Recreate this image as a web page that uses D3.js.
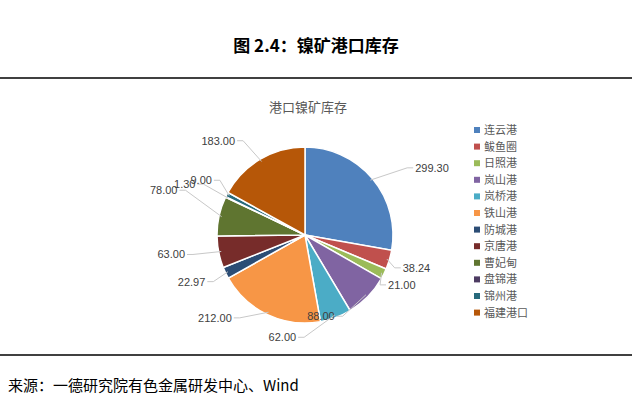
<!DOCTYPE html>
<html><head><meta charset="utf-8">
<script src="https://cdn.jsdelivr.net/npm/d3@7"></script>
<style>body{margin:0;background:#fff;font-family:"Noto Sans CJK SC",sans-serif}</style>
</head><body><div id="chart"></div>
<script>
const ports = ["连云港","鲅鱼圈","日照港","岚山港","岚桥港","铁山港","防城港","京唐港","曹妃甸","盘锦港","锦州港","福建港口"];
const stock = [299.30,38.24,21.00,88.00,62.00,212.00,22.97,63.00,78.00,1.30,9.00,183.00];
const colors = ["#4f81bd","#c0504d","#9bbb59","#8064a2","#4bacc6","#f79646","#2c4d75","#772c2a","#5f7530","#4d3b62","#276a7c","#b65708"];
// label nudges (dx, dy) from default outside position
const nudge = [[29,5],[-4,7],[-12,7],[-46,11],[-46,7],[-28,-9],[-4,5],[-16,3],[-24,-18],[-14,-1],[1,-2],[-16,1]];

const W = 632, H = 409, cx = 305, cy = 235, r = 88;
const svg = d3.select("#chart").append("svg").attr("width", W).attr("height", H);

svg.append("text").attr("x", 316).attr("y", 52).attr("text-anchor", "middle")
  .style("font-size", "17px").style("font-weight", "bold").text("图 2.4：镍矿港口库存");
svg.append("line").attr("x1", 0).attr("x2", W).attr("y1", 78).attr("y2", 78).attr("stroke", "#000").attr("stroke-width", 1.5);
svg.append("line").attr("x1", 0).attr("x2", W).attr("y1", 355).attr("y2", 355).attr("stroke", "#000").attr("stroke-width", 1.5);
svg.append("text").attr("x", 8).attr("y", 391).style("font-size", "15px").text("来源：一德研究院有色金属研发中心、Wind");

svg.append("text").attr("x", 308).attr("y", 112).attr("text-anchor", "middle")
  .attr("fill", "#595959").style("font-size", "13px").text("港口镍矿库存");

const pie = d3.pie().sort(null).value(d => d)(stock);
const arc = d3.arc().innerRadius(0).outerRadius(r);
const g = svg.append("g").attr("transform", `translate(${cx},${cy})`);
g.selectAll("path").data(pie).enter().append("path")
  .attr("d", arc).attr("fill", (d, i) => colors[i]).attr("stroke", "#fff").attr("stroke-width", 1.5);

const inner = d3.arc().innerRadius(r * 0.97).outerRadius(r * 0.97);
const outer = d3.arc().innerRadius(r + 18).outerRadius(r + 18);
pie.forEach((d, i) => {
  const a = inner.centroid(d);
  const b = outer.centroid(d);
  const lx = b[0] + nudge[i][0], ly = b[1] + nudge[i][1];
  const left = lx < a[0];
  g.append("polyline")
    .attr("points", [a, [lx + (left ? 8 : -8), ly - 4], [lx + (left ? 2 : -2), ly - 4]].map(p => p.join(",")).join(" "))
    .attr("fill", "none").attr("stroke", "#c8c8c8").attr("stroke-width", 1);
  g.append("text").attr("x", lx).attr("y", ly)
    .attr("text-anchor", left ? "end" : "start").attr("fill", "#404040")
    .style("font-size", "11px").style("font-family", "Liberation Sans, sans-serif")
    .text(d.data.toFixed(2));
});

const lg = svg.append("g").attr("transform", "translate(474,124)");
ports.forEach((p, i) => {
  lg.append("rect").attr("x", 0).attr("y", i * 16.6 + 3).attr("width", 6).attr("height", 6).attr("fill", colors[i]);
  lg.append("text").attr("x", 10).attr("y", i * 16.6 + 10).attr("fill", "#595959").style("font-size", "11px").text(p);
});
</script></body></html>
